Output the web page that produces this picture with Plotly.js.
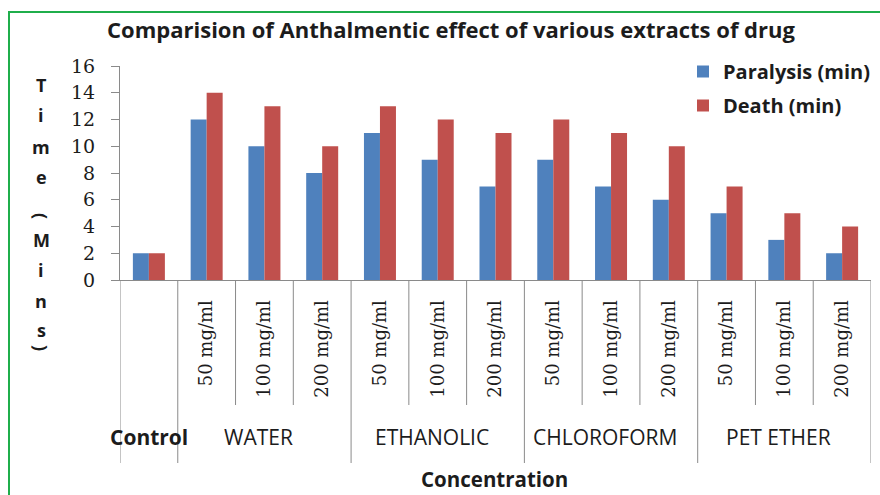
<!DOCTYPE html>
<html>
<head>
<meta charset="utf-8">
<script src="https://cdn.plot.ly/plotly-3.0.1.min.js"></script>
<style>
  html, body { margin: 0; padding: 0; background: #fff; }
  #wrap { position: relative; width: 880px; height: 495px; overflow: hidden; }
  #chart { width: 880px; height: 495px; }
  #frame { position: absolute; left: 8px; top: 11px; width: 900px; height: 520px;
           border-top: 2px solid #1fae4b; border-left: 2px solid #1fae4b; pointer-events: none; }
</style>
</head>
<body>
<div id="wrap"><div id="chart"></div><div id="frame"></div></div>
<script>
// ---- data ----
const groups = ["Control", "WATER", "ETHANOLIC", "CHLOROFORM", "PET ETHER"];
const groupSizes = [1, 3, 3, 3, 3];
const concentrations = ["", "50 mg/ml", "100 mg/ml", "200 mg/ml",
                        "50 mg/ml", "100 mg/ml", "200 mg/ml",
                        "50 mg/ml", "100 mg/ml", "200 mg/ml",
                        "50 mg/ml", "100 mg/ml", "200 mg/ml"];
const paralysis = [2, 12, 10, 8, 11, 9, 7, 9, 7, 6, 5, 3, 2];
const death     = [2, 14, 13, 10, 13, 12, 11, 12, 11, 10, 7, 5, 4];
const yTicks = [0, 2, 4, 6, 8, 10, 12, 14, 16];
const yTitleChars = ["T", "i", "m", "e", "(", "M", "i", "n", "s", ")"];
const seriesNames = ["Paralysis (min)", "Death (min)"];

// ---- layout helpers (pixel -> paper) ----
const W = 880, H = 495;
const mL = 120, mR = 9, mT = 66, mB = 215;
const pw = W - mL - mR, ph = H - mT - mB;
const px2x = p => (p - mL) / pw;
const py2y = p => (H - mB - p) / ph;

const idx = concentrations.map((_, i) => i);
const sans = "'Open Sans', 'DejaVu Sans', sans-serif";
const serif = "'DejaVu Serif', serif";
const ink = "#1c1c1c";
const axisGrey = "#8a8a8a";

const traces = [
  { type: "bar", name: seriesNames[0], x: idx, y: paralysis, legendgroup: "a",
    marker: { color: "#4f81bd" }, hoverinfo: "y" },
  { type: "bar", name: seriesNames[1], x: idx, y: death, legendgroup: "b",
    marker: { color: "#c0504d" }, hoverinfo: "y" }
];

// divider lines below the axis (short between concentrations, long between groups)
const shapes = [];
let start = 0;
const boundaries = new Set([0]);
groupSizes.forEach(n => { start += n; boundaries.add(start); });
for (let k = 0; k <= concentrations.length; k++) {
  const isGroup = boundaries.has(k);
  shapes.push({ type: "line", xref: "x", yref: "paper",
    x0: k - 0.5, x1: k - 0.5, y0: 0, y1: py2y(isGroup ? 463 : 405),
    line: { color: axisGrey, width: 1 } });
}

const annotations = [];
// group labels
let s = 0;
groups.forEach((g, i) => {
  const n = groupSizes[i];
  const center = s + (n - 1) / 2;
  s += n;
  annotations.push({ xref: "x", yref: "paper", x: center - (i === 0 ? 0 : 0.1), y: py2y(437),
    text: g, showarrow: false, xanchor: "center", yanchor: "middle",
    font: { family: sans, size: 21, color: ink, weight: i === 0 ? "bold" : "normal" } });
});
// x axis title
annotations.push({ xref: "paper", yref: "paper", x: px2x(494), y: py2y(479),
  text: "<b>Concentration</b>", showarrow: false, xanchor: "center", yanchor: "middle",
  font: { family: sans, size: 20.5, color: ink } });
// stacked y-axis title (parentheses turned sideways, as in the reference)
const yTitlePos = [85, 115, 147, 177, 216, 240, 270, 301, 330, 348];
yTitleChars.forEach((c, i) => {
  const paren = c === "(" || c === ")";
  annotations.push({ xref: "paper", yref: "paper", x: px2x(41), y: py2y(yTitlePos[i]),
    text: "<b>" + c + "</b>", showarrow: false,
    xanchor: "center", yanchor: "middle", textangle: paren ? 90 : 0,
    font: { family: sans, size: 18, color: ink } });
});

const layout = {
  width: W, height: H,
  margin: { l: mL, r: mR, t: mT, b: mB, pad: 0, autoexpand: false },
  paper_bgcolor: "#fff", plot_bgcolor: "rgba(0,0,0,0)",
  title: { text: "<b>Comparision of Anthalmentic effect of various extracts of drug</b>",
    xref: "container", yref: "container", x: 451 / W, y: 1 - 30 / H,
    xanchor: "center", yanchor: "middle",
    font: { family: sans, size: 22, color: ink } },
  barmode: "group", bargap: 0.446, bargroupgap: 0,
  showlegend: true,
  legend: { x: px2x(683), y: py2y(52), xanchor: "left", yanchor: "top",
    traceorder: "grouped", tracegroupgap: 5, bgcolor: "rgba(0,0,0,0)", itemwidth: 30,
    font: { family: sans, size: 20, color: ink, weight: "bold" } },
  xaxis: { range: [-0.5, concentrations.length - 0.5], tickmode: "array",
    tickvals: idx, ticktext: concentrations, tickangle: -90,
    ticks: "", ticklabelstandoff: 12, showgrid: false, zeroline: false,
    showline: true, linecolor: axisGrey, linewidth: 1, fixedrange: true,
    tickfont: { family: serif, size: 18, color: ink } },
  yaxis: { range: [0, 16], tickmode: "array", tickvals: yTicks,
    ticks: "outside", ticklen: 8, tickcolor: axisGrey, tickwidth: 1,
    ticklabelstandoff: 12, showgrid: false, zeroline: false,
    showline: true, linecolor: axisGrey, linewidth: 1, fixedrange: true,
    tickfont: { family: serif, size: 19, color: ink } },
  shapes: shapes,
  annotations: annotations
};

Plotly.newPlot("chart", traces, layout, { displayModeBar: false, staticPlot: true });
</script>
</body>
</html>
